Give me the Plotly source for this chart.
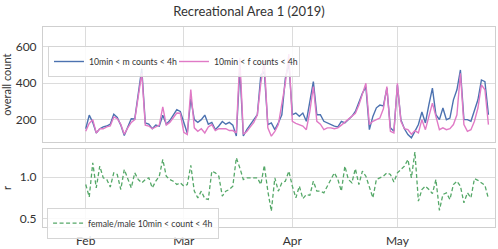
import pandas as pd
import plotly.graph_objects as go

start_date = "2019-02-01"

male_counts = [150, 225, 185, 127, 150, 160, 165, 175, 230, 212,
               170, 113, 160, 205, 204, 350, 480, 182, 176, 150,
               170, 164, 224, 175, 195, 225, 255, 245, 180, 125,
               315, 200, 185, 200, 225, 175, 185, 145, 165, 190,
               175, 185, 170, 110, 480, 110, 145, 170, 200, 227,
               445, 464, 173, 182, 145, 182, 227, 427, 510, 227,
               236, 218, 236, 191, 291, 409, 227, 227, 191, 182,
               173, 164, 160, 191, 182, 200, 218, 245, 291, 345,
               380, 145, 218, 265, 280, 275, 373, 155, 136, 390,
               200, 150, 118, 100, 136, 173, 242, 182, 282, 373,
               227, 200, 264, 200, 209, 309, 364, 473, 200, 200,
               191, 245, 309, 418, 409, 227]

female_counts = [136, 180, 200, 127, 150, 150, 160, 165, 215, 205,
                 175, 120, 155, 185, 200, 330, 455, 170, 165, 150,
                 160, 170, 270, 170, 185, 210, 236, 235, 130, 118,
                 365, 155, 136, 150, 127, 160, 173, 140, 150, 150,
                 150, 140, 140, 127, 540, 120, 135, 160, 185, 227,
                 400, 520, 155, 109, 136, 173, 300, 400, 560, 191,
                 180, 173, 165, 145, 245, 382, 191, 175, 145, 155,
                 155, 150, 155, 170, 185, 200, 215, 235, 280, 335,
                 400, 173, 191, 200, 209, 260, 382, 136, 127, 400,
                 191, 150, 145, 120, 140, 127, 200, 145, 227, 291,
                 218, 145, 155, 145, 150, 173, 227, 455, 173, 136,
                 145, 191, 264, 391, 364, 173]

ratio = [0.91, 0.76, 1.17, 0.87, 1.13, 0.99, 0.97, 0.88, 1.05, 1.03,
         0.85, 1.09, 0.98, 0.87, 1.05, 0.97, 0.93, 0.97, 0.99, 0.87,
         0.95, 1.01, 1.21, 1.01, 0.97, 0.95, 0.91, 0.93, 0.89, 0.91,
         1.14, 0.83, 0.75, 0.83, 0.74, 0.73, 1.07, 1.05, 1.01, 0.77,
         0.83, 0.85, 0.89, 1.23, 1.11, 0.97, 0.99, 0.99, 0.99, 0.99,
         0.91, 1.14, 0.83, 0.59, 0.99, 0.83, 0.93, 0.95, 1.07, 0.89,
         0.75, 0.89, 0.74, 0.79, 0.78, 0.95, 0.83, 0.83, 0.81, 0.89,
         0.97, 1.05, 0.97, 0.83, 1.13, 0.97, 0.93, 1.10, 0.91, 1.07,
         1.01, 0.89, 0.75, 0.97, 0.99, 1.01, 1.05, 1.03, 0.94, 1.05,
         1.09, 1.13, 1.21, 0.99, 1.30, 0.71, 0.85, 0.89, 0.85, 0.80,
         0.97, 0.60, 0.79, 0.81, 0.73, 0.91, 0.95, 0.89, 0.69, 0.81,
         0.75, 0.98, 0.96, 0.93, 0.90, 0.74]

dates = pd.date_range(start_date, periods=len(male_counts), freq="D")

title_text = "Recreational Area 1 (2019)"
name_m = "10min < m counts < 4h"
name_f = "10min < f counts < 4h"
name_r = "female/male 10min < count < 4h"
count_ticks = [200, 400, 600]
ratio_ticks = [0.5, 1.0]

BLUE = "#4c72b0"
PINK = "#e07ac6"
GREEN = "#55a868"
GRID = "#dcdcdc"
FRAME = "#cfcfcf"
TXT = "#333333"
FONT = "Lato"

fig = go.Figure()
fig.add_trace(go.Scatter(x=dates, y=male_counts, name=name_m, mode="lines",
                         line=dict(color=BLUE, width=1.4), xaxis="x", yaxis="y",
                         legend="legend"))
fig.add_trace(go.Scatter(x=dates, y=female_counts, name=name_f, mode="lines",
                         line=dict(color=PINK, width=1.4), xaxis="x", yaxis="y",
                         legend="legend"))
fig.add_trace(go.Scatter(x=dates, y=ratio, name=name_r, mode="lines",
                         line=dict(color=GREEN, width=1.3, dash="4px,2.5px"),
                         xaxis="x2", yaxis="y2", legend="legend2"))

xrange = ["2019-01-19 19:00", "2019-05-28 21:00"]
axis_common = dict(showgrid=True, gridcolor=GRID, gridwidth=1,
                   showline=True, linecolor=FRAME, linewidth=1, mirror=True,
                   zeroline=False, ticks="", automargin=False,
                   tickfont=dict(size=12, color=TXT, family=FONT))

fig.update_layout(
    width=498, height=249,
    margin=dict(l=43, r=3, t=27, b=22),
    paper_bgcolor="white", plot_bgcolor="white",
    font=dict(family=FONT, color=TXT),
    title=dict(text=title_text, x=0.5, xanchor="center", y=0.955, yanchor="middle",
               font=dict(size=13, color=TXT, family=FONT)),
    xaxis=dict(domain=[0, 1], anchor="y", range=xrange, type="date",
               dtick="M1", tick0="2019-02-01", showticklabels=False, **axis_common),
    xaxis2=dict(domain=[0, 1], anchor="y2", range=xrange, type="date",
                dtick="M1", tick0="2019-02-01", tickformat="%b", matches="x",
                ticklabelstandoff=3, **axis_common),
    yaxis=dict(domain=[0.423, 1], range=[75, 709], tickvals=count_ticks,
               title=dict(text="overall count", font=dict(size=11, color=TXT, family=FONT),
                          standoff=6),
               ticklabelstandoff=3, **axis_common),
    yaxis2=dict(domain=[0, 0.39], range=[0.40, 1.336], tickvals=ratio_ticks,
                tickformat=".1f",
                title=dict(text="r", font=dict(size=11, color=TXT, family=FONT),
                           standoff=6),
                ticklabelstandoff=3, **axis_common),
    legend=dict(x=0.011, y=0.905, xanchor="left", yanchor="top",
                orientation="h", bgcolor="rgba(255,255,255,0.85)",
                bordercolor="#d5d5d5", borderwidth=1,
                font=dict(size=8.7, color=TXT, family=FONT),
                itemwidth=30, entrywidth=80, tracegroupgap=0),
    legend2=dict(x=0.009, y=0.0965, xanchor="left", yanchor="top",
                 orientation="h", bgcolor="rgba(255,255,255,0.85)",
                 bordercolor="#d5d5d5", borderwidth=1,
                 font=dict(size=8.7, color=TXT, family=FONT),
                 itemwidth=30),
    showlegend=True,
)

fig.write_html("out.html",
               config={"displayModeBar": False},
               post_script="document.body.style.margin='0px';document.body.style.padding='0px';")
